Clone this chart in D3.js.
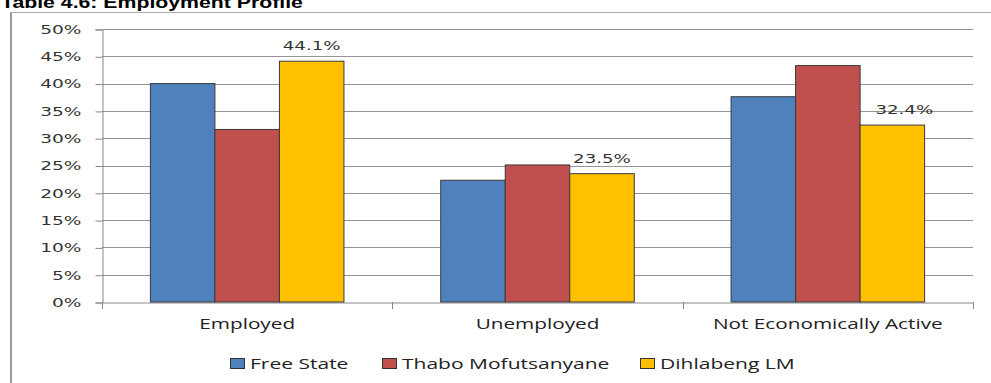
<!DOCTYPE html>
<html>
<head>
<meta charset="utf-8">
<script src="https://cdn.jsdelivr.net/npm/d3@7"></script>
<style>
  body { margin: 0; background: #fff; }
  svg { display: block; }
</style>
</head>
<body>
<div id="chart"></div>
<script>
// data
const categories = ["Employed", "Unemployed", "Not Economically Active"];
const seriesNames = ["Free State", "Thabo Mofutsanyane", "Dihlabeng LM"];
const freeState = [40.0, 22.3, 37.6];
const thabo = [31.6, 25.1, 43.3];
const dihlabeng = [44.1, 23.5, 32.4];
const yTicks = [0, 5, 10, 15, 20, 25, 30, 35, 40, 45, 50];
const colors = ["#4F81BD", "#C0504D", "#FFC000"];

const width = 991, height = 383;
const margin_left = 102, margin_right = 18, margin_top = 29, margin_bottom = 81;

// source image is stretched sideways, so widen the text the same way
function stretch(sel, factor) {
  sel.each(function() {
    const w = this.getComputedTextLength();
    d3.select(this)
      .attr("textLength", w * factor)
      .attr("lengthAdjust", "spacingAndGlyphs");
  });
}

const svg = d3.select("#chart").append("svg")
  .attr("width", width)
  .attr("height", height);

// title, cut off at the top like the source
const title = svg.append("text")
  .attr("x", 1)
  .attr("y", 8)
  .attr("font-family", "Liberation Sans, Arial, sans-serif")
  .attr("font-weight", "bold")
  .attr("font-size", 17)
  .attr("fill", "#000")
  .text("Table 4.6: Employment Profile");
stretch(title, 1.25);

// outer frame (left + top visible)
svg.append("line").attr("x1", 11).attr("x2", 11).attr("y1", 12).attr("y2", height)
  .attr("stroke", "#999").attr("stroke-width", 2);
svg.append("line").attr("x1", 10).attr("x2", width).attr("y1", 12.5).attr("y2", 12.5)
  .attr("stroke", "#aaa").attr("stroke-width", 1);

const x_scale = d3.scaleBand()
  .domain(categories)
  .range([margin_left, width - margin_right]);

const x_inner = d3.scaleBand()
  .domain(seriesNames)
  .range([0, x_scale.bandwidth()])
  .paddingOuter(0.75);

const y_scale = d3.scaleLinear()
  .domain([0, 50])
  .range([height - margin_bottom, margin_top]);

// gridlines
svg.append("g")
  .selectAll("line")
  .data(yTicks.filter(d => d > 0))
  .enter()
  .append("line")
  .attr("x1", margin_left)
  .attr("x2", width - margin_right)
  .attr("y1", d => Math.round(y_scale(d)) + 0.5)
  .attr("y2", d => Math.round(y_scale(d)) + 0.5)
  .attr("stroke", "#949494");

// y axis
const yAxis = svg.append("g")
  .attr("transform", "translate(" + (margin_left + 0.5) + ",0.5)")
  .call(d3.axisLeft(y_scale).tickValues(yTicks).tickFormat(d => d + "%").tickSize(7).tickPadding(14));
yAxis.select(".domain").attr("stroke", "#888");
yAxis.selectAll(".tick line").attr("stroke", "#888");
yAxis.selectAll("text")
  .attr("font-family", "DejaVu Sans, Verdana, sans-serif")
  .attr("font-size", 12)
  .attr("fill", "#333");
stretch(yAxis.selectAll("text"), 1.55);

// x axis
const xAxis = svg.append("g")
  .attr("transform", "translate(0," + (height - margin_bottom + 0.5) + ")")
  .call(d3.axisBottom(x_scale).tickSize(0).tickPadding(17));
xAxis.select(".domain").attr("stroke", "#888");
xAxis.selectAll("text")
  .attr("font-family", "Open Sans, sans-serif")
  .attr("font-size", 14)
  .attr("fill", "#222");
stretch(xAxis.selectAll("text"), 1.48);
// boundary ticks between categories
svg.append("g")
  .selectAll("line")
  .data(categories.concat(["end"]))
  .enter()
  .append("line")
  .attr("x1", (d, i) => Math.round(margin_left + i * x_scale.bandwidth()) + 0.5)
  .attr("x2", (d, i) => Math.round(margin_left + i * x_scale.bandwidth()) + 0.5)
  .attr("y1", height - margin_bottom)
  .attr("y2", height - margin_bottom + 7)
  .attr("stroke", "#888");

// bars
const allSeries = [freeState, thabo, dihlabeng];
allSeries.forEach((vals, s) => {
  svg.append("g")
    .selectAll("rect")
    .data(vals)
    .enter()
    .append("rect")
    .attr("x", (d, i) => x_scale(categories[i]) + x_inner(seriesNames[s]))
    .attr("y", d => y_scale(d))
    .attr("width", x_inner.bandwidth())
    .attr("height", d => y_scale(0) - y_scale(d))
    .attr("fill", colors[s])
    .attr("stroke", "#3a3a3a")
    .attr("stroke-width", 1);
});

// value labels on Dihlabeng bars
const valueLabels = svg.append("g")
  .selectAll("text")
  .data(dihlabeng)
  .enter()
  .append("text")
  .attr("x", (d, i) => x_scale(categories[i]) + x_inner("Dihlabeng LM") + x_inner.bandwidth() / 2 + (i == 2 ? 12 : 0))
  .attr("y", d => y_scale(d) - 11)
  .attr("text-anchor", "middle")
  .attr("font-family", "DejaVu Sans, Verdana, sans-serif")
  .attr("font-size", 13)
  .attr("fill", "#333")
  .text(d => d.toFixed(1) + "%");
stretch(valueLabels, 1.4);

// legend
const legendX = [230, 382, 640];
const legend = svg.append("g");
seriesNames.forEach((name, i) => {
  legend.append("rect")
    .attr("x", legendX[i] + 0.5)
    .attr("y", 358.5)
    .attr("width", 14)
    .attr("height", 10)
    .attr("fill", colors[i])
    .attr("stroke", "#333");
  const t = legend.append("text")
    .attr("x", legendX[i] + 20)
    .attr("y", 369)
    .attr("font-family", "Open Sans, sans-serif")
    .attr("font-size", 14)
    .attr("fill", "#222")
    .text(name);
  stretch(t, 1.5);
});
</script>
</body>
</html>
